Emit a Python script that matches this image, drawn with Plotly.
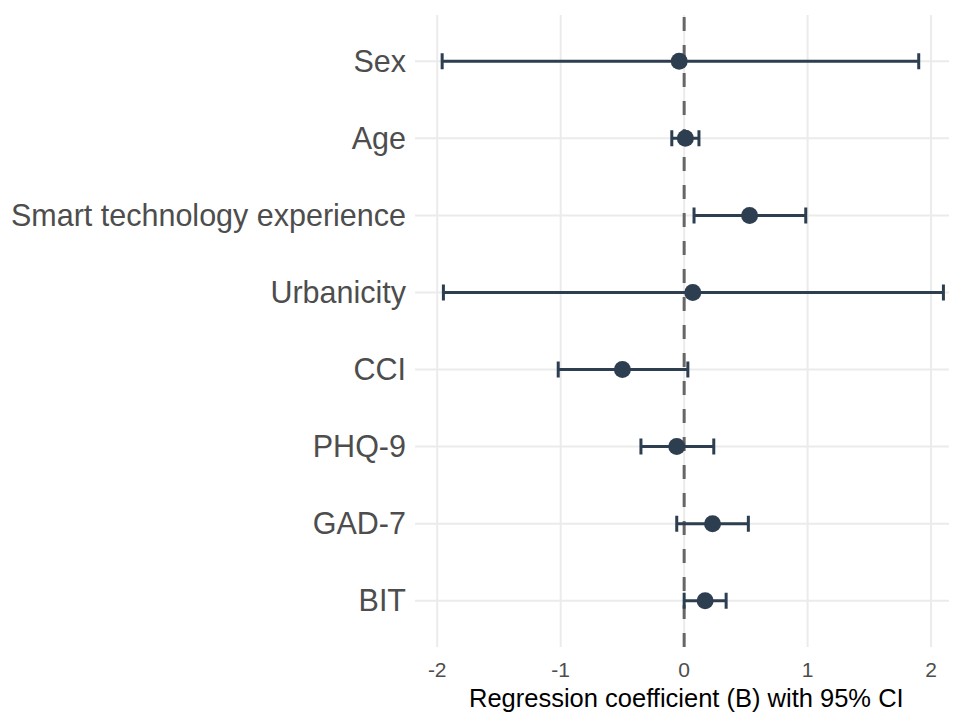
import plotly.graph_objects as go

predictors = ["Sex", "Age", "Smart technology experience", "Urbanicity",
              "CCI", "PHQ-9", "GAD-7", "BIT"]
estimate = [-0.04, 0.01, 0.53, 0.07, -0.50, -0.06, 0.23, 0.17]
ci_low = [-1.96, -0.10, 0.08, -1.95, -1.02, -0.35, -0.06, 0.00]
ci_high = [1.90, 0.12, 0.985, 2.10, 0.03, 0.24, 0.52, 0.34]
x_ticks = [-2, -1, 0, 1, 2]

err_plus = [h - e for h, e in zip(ci_high, estimate)]
err_minus = [e - l for e, l in zip(estimate, ci_low)]

col = "#2C3E50"
grid = "#EBEBEB"
fig = go.Figure()
fig.add_trace(go.Scatter(
    x=estimate, y=predictors, mode="markers",
    marker=dict(color=col, size=17),
    error_x=dict(type="data", symmetric=False, array=err_plus,
                 arrayminus=err_minus, color=col, thickness=3, width=8),
    showlegend=False,
))

# grid lines drawn as shapes so the dashed reference line can sit above them
for v in x_ticks:
    fig.add_shape(type="line", xref="x", yref="paper", x0=v, x1=v, y0=0, y1=1,
                  line=dict(color=grid, width=2), layer="below")
for p in predictors:
    fig.add_shape(type="line", xref="paper", yref="y", x0=0, x1=1, y0=p, y1=p,
                  line=dict(color=grid, width=2), layer="below")
fig.add_shape(type="line", xref="x", yref="paper", x0=0, x1=0, y0=0, y1=1,
              line=dict(color="#666666", width=3, dash="14px,14px"),
              layer="below")

# page has an 8px body margin, so the figure is sized to fill 957x714 from (8,8)
fig.update_layout(
    width=949, height=706,
    margin=dict(l=407, r=0, t=7, b=67),
    paper_bgcolor="white", plot_bgcolor="white",
    font=dict(family="Liberation Sans, Arial, sans-serif"),
    xaxis=dict(range=[-2.18, 2.21], tickvals=x_ticks,
               ticktext=[str(v) for v in x_ticks],
               showgrid=False, zeroline=False, showline=False, ticks="",
               tickfont=dict(size=21, color="#4D4D4D"),
               ticklabelstandoff=8),
    yaxis=dict(categoryorder="array", categoryarray=predictors[::-1],
               range=[-0.6, 7.6],
               showgrid=False, zeroline=False, showline=False, ticks="",
               tickfont=dict(size=30.5, color="#4D4D4D"),
               ticklabelstandoff=8),
    annotations=[dict(text="Regression coefficient (B) with 95% CI",
                      xref="paper", yref="paper", x=0.5, y=0,
                      yshift=-51, xanchor="center", yanchor="middle",
                      showarrow=False,
                      font=dict(size=25.5, color="black"))],
)

fig.write_html("out.html")
